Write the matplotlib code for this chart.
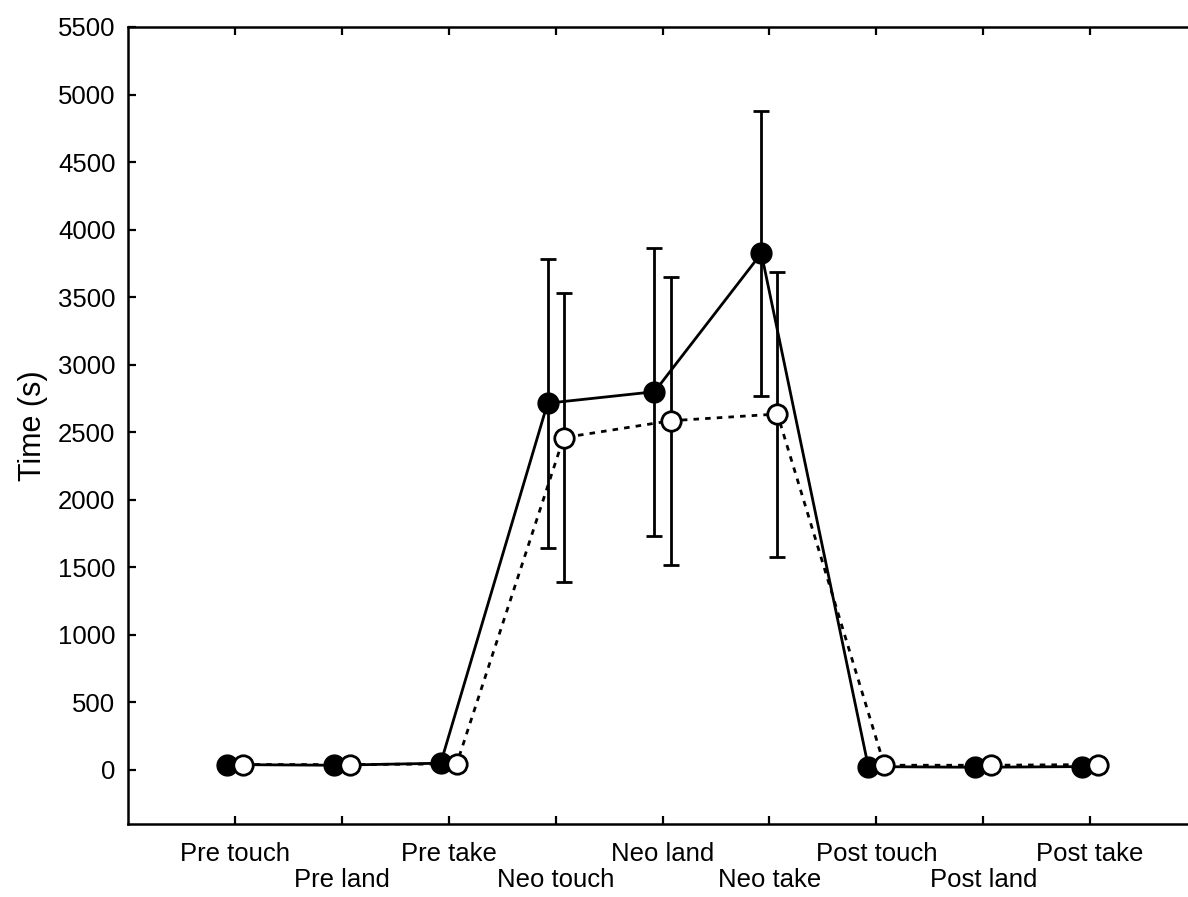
import numpy as np
import matplotlib
matplotlib.use("Agg")
from matplotlib import pyplot as plt

plt.rcParams['font.family'] = ['Liberation Sans', 'DejaVu Sans']

# categories along the x axis
labels = ['Pre touch', 'Pre land', 'Pre take', 'Neo touch', 'Neo land',
          'Neo take', 'Post touch', 'Post land', 'Post take']

# filled circles (solid line)
filled_mean = [40, 35, 50, 2715, 2800, 3825, 25, 20, 25]
filled_err = [10, 10, 12, 1070, 1065, 1055, 8, 8, 8]

# open circles (dotted line)
open_mean = [40, 40, 45, 2460, 2585, 2635, 35, 35, 40]
open_err = [10, 10, 25, 1070, 1065, 1055, 8, 8, 8]

yticks = np.arange(0, 5501, 500)


def main():
    fig = plt.figure(figsize=(11.88, 8.97), dpi=100)
    # right spine of the original lies just outside the picture
    ax = fig.add_axes([128 / 1188, 1 - 824 / 897, (1197 - 128) / 1188, (824 - 27) / 897])

    x = np.arange(1, len(labels) + 1)
    off = 0.075

    ax.errorbar(x - off, filled_mean, yerr=filled_err, fmt='-', color='black',
                lw=2.0, elinewidth=2.0, capsize=6, capthick=2.0,
                marker='o', ms=15, mfc='black', mec='black', zorder=3)
    ax.errorbar(x + off, open_mean, yerr=open_err, fmt='--', color='black',
                lw=2.0, elinewidth=2.0, capsize=6, capthick=2.0, dashes=(2.0, 2.2),
                marker='o', ms=14, mfc='white', mec='black', mew=2.0, zorder=4)

    ax.set_xlim(0, 10)
    ax.set_ylim(-400, 5500)
    ax.set_yticks(yticks)
    ax.set_xticks(x)
    ax.set_xticklabels([l if i % 2 == 0 else '\n' + l for i, l in enumerate(labels)])
    for t in ax.get_xticklabels():
        t.set_linespacing(1.1)

    ax.tick_params(direction='in', length=6, width=1.6, labelsize=18.5,
                   top=True, right=True, pad=9)
    ax.tick_params(axis='x', pad=13)
    for s in ax.spines.values():
        s.set_linewidth(1.8)

    ax.set_ylabel('Time (s)', fontsize=22, labelpad=7)

    fig.savefig('out.png', dpi=100)


if __name__ == '__main__':
    main()
